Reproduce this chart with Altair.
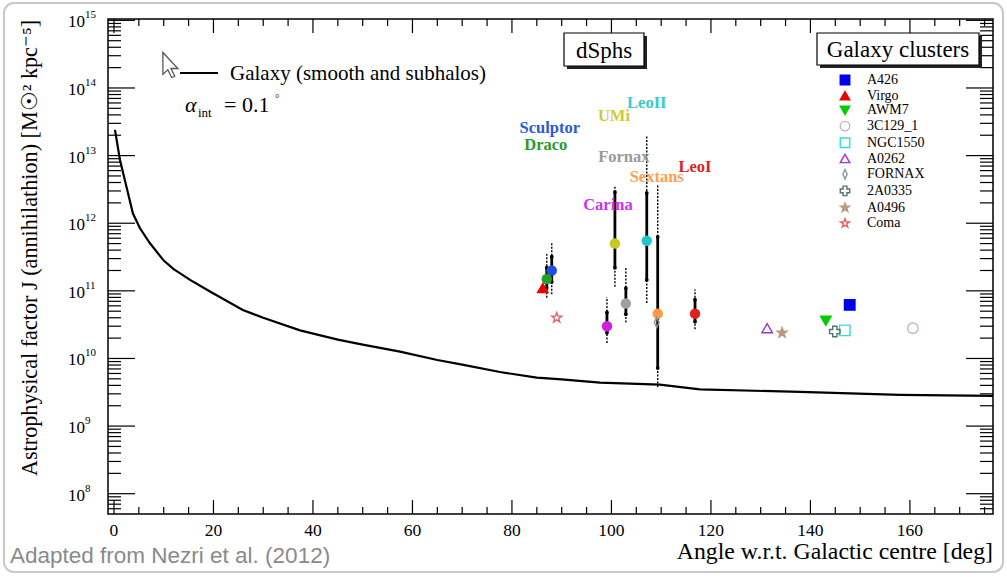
import altair as alt
import pandas as pd
import numpy as np

# ---------------- data ----------------
curve_deg = [0.2, 1.2, 2.5, 3.8, 5.2, 7.2, 10, 12, 15.3, 19.3, 25.9, 30, 37.4, 45, 50, 57.5,
             65, 70, 77.6, 85, 90, 97.7, 109.7, 117.8, 137.9, 158, 176.7]
curve_J = [2.4e13, 8.7e12, 3.5e12, 1.4e12, 8.5e11, 5.1e11, 2.8e11, 2.1e11, 1.45e11, 9.8e10,
           5.2e10, 4.0e10, 2.6e10, 1.9e10, 1.6e10, 1.26e10, 9.5e9, 8.1e9, 6.3e9, 5.2e9,
           4.9e9, 4.4e9, 4.1e9, 3.5e9, 3.2e9, 2.9e9, 2.8e9]

dsph_names = ["Sculptor", "Draco", "Carina", "UMi", "Fornax", "LeoII", "Sextans", "LeoI"]
dsph_angle = [88.0, 87.0, 99.1, 100.7, 102.9, 107.1, 109.3, 116.8]
dsph_J = [2.0e11, 1.5e11, 3.0e10, 5.0e11, 6.5e10, 5.5e11, 4.6e10, 4.6e10]
dsph_solid_lo = [1.35e11, 1.1e11, 2.4e10, 2.2e11, 4.5e10, 1.45e11, 7.2e9, 3.5e10]
dsph_solid_hi = [3.2e11, 2.2e11, 4.8e10, 2.9e12, 1.1e11, 2.8e12, 6.3e11, 7.4e10]
dsph_dot_lo = [8.9e10, 7.9e10, 1.7e10, 1.15e11, 3.4e10, 6.6e10, 3.8e9, 2.7e10]
dsph_dot_hi = [5.2e11, 3.5e11, 8.1e10, 3.5e12, 2.2e11, 2.0e13, 3.7e12, 1.05e11]
dsph_colors = ["#1f4fe0", "#22a022", "#cc22dd", "#c8c820", "#a0a0a0", "#22c8c8", "#ff9a40", "#e02020"]
dsph_label_colors = ["#2a5ad8", "#2a9a2a", "#cc33ee", "#cccc33", "#999999", "#33cccc", "#ff9f55", "#dd2222"]
dsph_label_angle = [87.6, 86.8, 99.3, 100.5, 102.5, 107.1, 109.1, 116.8]
dsph_label_J = [2.6e13, 1.45e13, 1.86e12, 3.9e13, 9.5e12, 6.0e13, 4.8e12, 6.8e12]

cl_names = ["A426", "Virgo", "AWM7", "3C129_1", "NGC1550", "A0262", "FORNAX", "2A0335", "A0496", "Coma"]
cl_angle = [147.9, 86.2, 143.1, 160.6, 146.9, 131.3, 109.1, 144.9, 134.3, 89.0]
cl_J = [6.2e10, 1.1e11, 3.6e10, 2.8e10, 2.6e10, 2.8e10, 3.4e10, 2.5e10, 2.4e10, 4.0e10]

STAR = "M0,-1 L0.235,-0.324 L0.951,-0.309 L0.38,0.124 L0.588,0.809 L0,0.4 L-0.588,0.809 L-0.38,0.124 L-0.951,-0.309 L-0.235,-0.324 Z"
THIN_DIAMOND = "M0,-1 L0.45,0 L0,1 L-0.45,0 Z"
cl_shapes = ["square", "triangle-up", "triangle-down", "circle", "square", "triangle-up",
             THIN_DIAMOND, "cross", STAR, STAR]
cl_stroke = ["#0000ee", "#ee0000", "#00cc00", "#c8b8b8", "#33dddd", "#9933dd", "#889999",
             "#5a7070", "#b89a80", "#dd6666"]
cl_fill = ["#0000ee", "#ee0000", "#00cc00", "transparent", "transparent", "transparent",
           "transparent", "transparent", "#b89a80", "transparent"]

x_tick_labels = [0, 20, 40, 60, 80, 100, 120, 140, 160]
x_minor = [v for v in range(5, 177, 5) if v % 20 != 0]
y_major = [1e8, 1e9, 1e10, 1e11, 1e12, 1e13, 1e14, 1e15]
y_minor = [m * 10.0 ** k for k in range(7, 15) for m in range(2, 10) if 10 ** 7.7 <= m * 10.0 ** k <= 1e15]

# ---------------- layout / style ----------------
W, H = 885, 495
SERIF = "Liberation Serif"
xscale = alt.Scale(domain=[-1.2, 176.7], nice=False, zero=False)
yscale = alt.Scale(type="log", domain=[10 ** 7.70, 10 ** 15.02], nice=False)

def xq(f):
    return alt.X(f"{f}:Q", scale=xscale, axis=None)

def yq(f):
    return alt.Y(f"{f}:Q", scale=yscale, axis=None)

one = pd.DataFrame({"k": [0]})

curve_df = pd.DataFrame({"angle": curve_deg, "J": curve_J})
dsph_df = pd.DataFrame({"name": dsph_names, "angle": dsph_angle, "J": dsph_J,
                        "slo": dsph_solid_lo, "shi": dsph_solid_hi,
                        "dlo": dsph_dot_lo, "dhi": dsph_dot_hi, "color": dsph_colors})
lab_df = pd.DataFrame({"name": dsph_names, "angle": dsph_label_angle, "J": dsph_label_J,
                       "color": dsph_label_colors})
cl_df = pd.DataFrame({"name": cl_names, "angle": cl_angle, "J": cl_J})

frame = alt.Chart(one).mark_rect(fill="white", stroke="#c8c8c8", strokeWidth=2, cornerRadius=10).encode(
    x=alt.value(-104), x2=alt.value(W + 10), y=alt.value(-16), y2=alt.value(H + 58))

curve = alt.Chart(curve_df).mark_line(color="black", strokeWidth=2.2).encode(
    x=xq("angle"), y=yq("J"))

# ticks (inside, ROOT style)
ymaj_df = pd.DataFrame({"v": y_major})
ymaj_df["e"] = [str(int(round(np.log10(v)))) for v in y_major]
ymin_df = pd.DataFrame({"v": y_minor})
xmaj_df = pd.DataFrame({"v": x_tick_labels})
xmaj_df["t"] = [str(v) for v in x_tick_labels]
xmin_df = pd.DataFrame({"v": x_minor})

plotbg = alt.Chart(one).mark_rect(fill="white", stroke="black", strokeWidth=1.5).encode(
    x=alt.value(0), x2=alt.value(W), y=alt.value(0), y2=alt.value(H))

ticks = []
for df, L in [(ymaj_df, 27), (ymin_df, 13)]:
    ticks.append(alt.Chart(df).mark_rule(color="black", strokeWidth=1.2).encode(
        y=yq("v"), x=alt.value(0), x2=alt.value(L)))
    ticks.append(alt.Chart(df).mark_rule(color="black", strokeWidth=1.2).encode(
        y=yq("v"), x=alt.value(W), x2=alt.value(W - L)))
for df, L in [(xmaj_df, 14), (xmin_df, 7)]:
    ticks.append(alt.Chart(df).mark_rule(color="black", strokeWidth=1.2).encode(
        x=xq("v"), y=alt.value(H), y2=alt.value(H - L)))
    ticks.append(alt.Chart(df).mark_rule(color="black", strokeWidth=1.2).encode(
        x=xq("v"), y=alt.value(0), y2=alt.value(L)))

ylab10 = alt.Chart(ymaj_df).mark_text(font=SERIF, fontSize=17, align="right", baseline="middle",
                                      color="black", dy=2).encode(
    y=yq("v"), x=alt.value(-23), text=alt.value("10"))
ylabexp = alt.Chart(ymaj_df).mark_text(font=SERIF, fontSize=11, align="left", baseline="middle",
                                       color="black", dy=-5).encode(
    y=yq("v"), x=alt.value(-23), text="e:N")
xlab = alt.Chart(xmaj_df).mark_text(font=SERIF, fontSize=17.5, align="center", baseline="middle",
                                    color="black").encode(
    x=xq("v"), y=alt.value(H + 17), text="t:N")

# error bars
dotted = alt.Chart(dsph_df).mark_rule(color="black", strokeWidth=1.4, strokeDash=[2, 1.5]).encode(
    x=xq("angle"), y=yq("dlo"), y2="dhi")
solid = alt.Chart(dsph_df).mark_rule(color="black", strokeWidth=2.8).encode(
    x=xq("angle"), y=yq("slo"), y2="shi")
ends = alt.Chart(dsph_df).transform_fold(["slo", "shi"], as_=["which", "val"]).mark_point(
    shape="circle", filled=True, color="black", size=14, opacity=1).encode(
    x=xq("angle"), y=yq("val"))
dpts = alt.Chart(dsph_df).mark_point(shape="circle", filled=True, size=110, opacity=1).encode(
    x=xq("angle"), y=yq("J"), color=alt.Color("color:N", scale=None))
dlabels = alt.Chart(lab_df).mark_text(font=SERIF, fontSize=16.5, fontWeight="bold",
                                      align="center", baseline="middle").encode(
    x=xq("angle"), y=yq("J"), text="name:N", color=alt.Color("color:N", scale=None))

leg = alt.Legend(title=None, orient="none", legendX=730, legendY=54, symbolSize=90,
                 symbolStrokeWidth=1.4, labelFont=SERIF, labelFontSize=14, labelColor="black",
                 labelOffset=15, rowPadding=0.7, padding=0)
cpts = alt.Chart(cl_df).mark_point(filled=True, size=110, strokeWidth=1.4, opacity=1).encode(
    x=xq("angle"), y=yq("J"),
    shape=alt.Shape("name:N", scale=alt.Scale(domain=cl_names, range=cl_shapes), legend=leg),
    stroke=alt.Stroke("name:N", scale=alt.Scale(domain=cl_names, range=cl_stroke), legend=leg),
    fill=alt.Fill("name:N", scale=alt.Scale(domain=cl_names, range=cl_fill), legend=leg))

# boxes
def box(x0, x1, y0, y1, label, size):
    sh = alt.Chart(one).mark_rect(fill="#222222").encode(
        x=alt.value(x0 + 3), x2=alt.value(x1 + 3), y=alt.value(y0 + 3), y2=alt.value(y1 + 3))
    bx = alt.Chart(one).mark_rect(fill="white", stroke="black", strokeWidth=1.2).encode(
        x=alt.value(x0), x2=alt.value(x1), y=alt.value(y0), y2=alt.value(y1))
    tx = alt.Chart(one).mark_text(font=SERIF, fontSize=size, color="black", align="center",
                                  baseline="middle").encode(
        x=alt.value((x0 + x1) / 2), y=alt.value((y0 + y1) / 2 + 1), text=alt.value(label))
    return [sh, bx, tx]

boxes = box(456, 536, 14, 47, "dSphs", 23) + box(709, 871, 14, 46, "Galaxy clusters", 23)

# top-left legend
CURSOR = "M-0.65,-1 L-0.65,0.75 L-0.25,0.38 L0.05,1 L0.3,0.9 L0,0.28 L0.55,0.28 Z"
cursor = alt.Chart(one).mark_point(shape=CURSOR, size=625, filled=True, fill="white",
                                   stroke="#555555", strokeWidth=1.3, opacity=1).encode(
    x=alt.value(63), y=alt.value(46))
gline = alt.Chart(one).mark_rule(color="black", strokeWidth=2.2).encode(
    x=alt.value(72), x2=alt.value(110), y=alt.value(54))
gtext = alt.Chart(one).mark_text(font=SERIF, fontSize=21, align="left", baseline="middle",
                                 color="black").encode(
    x=alt.value(122), y=alt.value(55), text=alt.value("Galaxy (smooth and subhalos)"))
alpha = alt.Chart(one).mark_text(font=SERIF, fontSize=22, fontStyle="italic", align="left",
                                 baseline="middle", color="black").encode(
    x=alt.value(77), y=alt.value(86), text=alt.value("α"))
alpha_sub = alt.Chart(one).mark_text(font=SERIF, fontSize=13, align="left", baseline="middle",
                                     color="black").encode(
    x=alt.value(90), y=alt.value(94), text=alt.value("int"))
alpha_eq = alt.Chart(one).mark_text(font=SERIF, fontSize=22, align="left", baseline="middle",
                                    color="black").encode(
    x=alt.value(116), y=alt.value(86), text=alt.value("= 0.1"))
alpha_deg = alt.Chart(one).mark_text(font=SERIF, fontSize=11, align="left", baseline="middle",
                                     color="black").encode(
    x=alt.value(167), y=alt.value(80), text=alt.value("°"))

# axis titles and credit
ytitle = alt.Chart(one).mark_text(font=SERIF, fontSize=22.2, angle=270, align="center",
                                  baseline="middle", color="black").encode(
    x=alt.value(-78), y=alt.value(229),
    text=alt.value("Astrophysical factor J (annihilathion) [M☉² kpc⁻⁵]"))
xtitle = alt.Chart(one).mark_text(font=SERIF, fontSize=23.8, align="right", baseline="middle",
                                  color="black").encode(
    x=alt.value(W), y=alt.value(H + 38), text=alt.value("Angle w.r.t. Galactic centre [deg]"))
credit = alt.Chart(one).mark_text(font="Liberation Sans", fontSize=22.5, align="left",
                                  baseline="middle", color="#8a8a8a").encode(
    x=alt.value(-98), y=alt.value(H + 42), text=alt.value("Adapted from Nezri et al. (2012)"))

chart = alt.layer(
    frame, plotbg, curve, *ticks, ylab10, ylabexp, xlab, dotted, solid, ends, dpts, dlabels, cpts,
    *boxes, cursor, gline, gtext, alpha, alpha_sub, alpha_eq, alpha_deg, ytitle, xtitle, credit
).properties(
    width=W, height=H,
    autosize=alt.AutoSizeParams(type="none"),
    padding={"left": 108, "top": 19, "right": 14, "bottom": 63},
    background="white",
).configure_view(stroke=None)

chart.save("out.html", embed_options={"renderer": "svg", "actions": False})
